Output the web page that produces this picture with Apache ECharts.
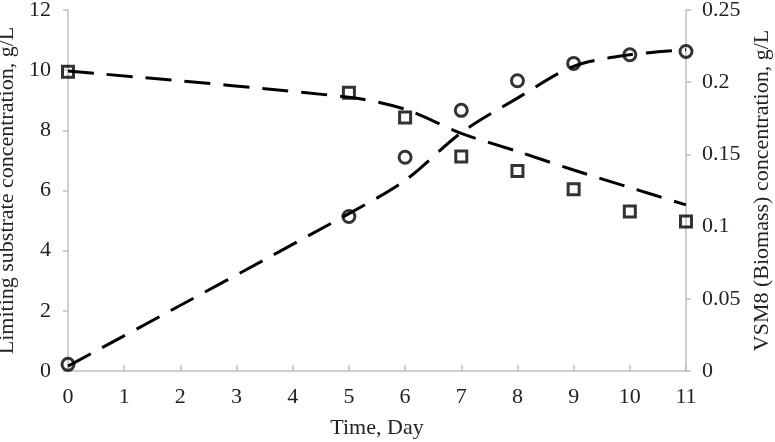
<!DOCTYPE html>
<html>
<head>
<meta charset="utf-8">
<script src="https://cdn.jsdelivr.net/npm/echarts@6/dist/echarts.min.js"></script>
<style>html,body{margin:0;padding:0;background:#fff}#c{width:775px;height:442px}</style>
</head>
<body>
<div id="c"></div>
<script>
var days = [0, 5, 6, 7, 8, 9, 10, 11];
var substrateObs = [9.95, 9.25, 8.43, 7.13, 6.65, 6.04, 5.30, 4.97];
var biomassObs = [0.0046, 0.107, 0.148, 0.1805, 0.201, 0.213, 0.219, 0.2213];
var substrateModel = [9.97, 9.1, 8.7, 7.9, 7.3, 6.68, 6.1, 5.52];
var biomassModel = [0.0034, 0.109, 0.132, 0.165, 0.189, 0.211, 0.219, 0.2225];
var xTicks = [0, 1, 2, 3, 4, 5, 6, 7, 8, 9, 10, 11];

function pairs(xs, ys) { return xs.map(function (x, i) { return [x, ys[i]]; }); }

var font = 'Liberation Serif';
var gray = '#bfbfbf';
var txt = '#222';
var chart = echarts.init(document.getElementById('c'));
chart.setOption({
  backgroundColor: '#fff',
  animation: false,
  grid: { left: 68, right: 89, top: 10, bottom: 71, outerBoundsMode: 'none', containLabel: false },
  xAxis: {
    type: 'value', min: xTicks[0], max: xTicks[xTicks.length - 1], interval: 1,
    name: 'Time, Day', nameLocation: 'middle', nameGap: 46,
    nameTextStyle: { fontFamily: font, fontSize: 22, color: txt },
    axisLine: { lineStyle: { color: gray, width: 1.5 } },
    axisTick: { inside: true, length: 6, lineStyle: { color: gray, width: 1.5 } },
    axisLabel: { fontFamily: font, fontSize: 22, color: txt, margin: 15 },
    splitLine: { show: false }
  },
  yAxis: [{
    type: 'value', min: 0, max: 12, interval: 2, position: 'left',
    name: 'Limiting substrate concentration, g/L', nameLocation: 'middle', nameGap: 36,
    nameTextStyle: { fontFamily: font, fontSize: 22, color: txt },
    axisLine: { show: true, lineStyle: { color: gray, width: 1.5 } },
    axisTick: { show: true, length: 5, lineStyle: { color: gray, width: 1.5 } },
    axisLabel: { fontFamily: font, fontSize: 22, color: txt, margin: 17 },
    splitLine: { show: false }
  }, {
    type: 'value', min: 0, max: 0.25, interval: 0.05, position: 'right',
    name: 'VSM8 (Biomass) concentration, g/L', nameLocation: 'middle', nameGap: 55, nameRotate: 90,
    nameTextStyle: { fontFamily: font, fontSize: 22, color: txt },
    axisLine: { show: true, lineStyle: { color: gray, width: 1.5 } },
    axisTick: { show: true, length: 5, lineStyle: { color: gray, width: 1.5 } },
    axisLabel: { fontFamily: font, fontSize: 22, color: txt, margin: 16 },
    splitLine: { show: false }
  }],
  series: [{
    type: 'line', yAxisIndex: 0, data: pairs(days, substrateModel), smooth: 0.3,
    showSymbol: false, lineStyle: { color: '#000', width: 3, type: [26, 13] }, z: 2
  }, {
    type: 'line', yAxisIndex: 1, data: pairs(days, biomassModel), smooth: 0.3,
    showSymbol: false, lineStyle: { color: '#000', width: 3, type: [26, 13] }, z: 2
  }, {
    type: 'scatter', yAxisIndex: 0, data: pairs(days, substrateObs), symbol: 'rect', symbolSize: 11,
    itemStyle: { color: 'rgba(0,0,0,0)', borderColor: '#000', borderWidth: 3 }, z: 3
  }, {
    type: 'scatter', yAxisIndex: 1, data: pairs(days, biomassObs), symbol: 'circle', symbolSize: 12,
    itemStyle: { color: 'rgba(0,0,0,0)', borderColor: '#000', borderWidth: 3 }, z: 3
  }]
});
</script>
</body>
</html>
